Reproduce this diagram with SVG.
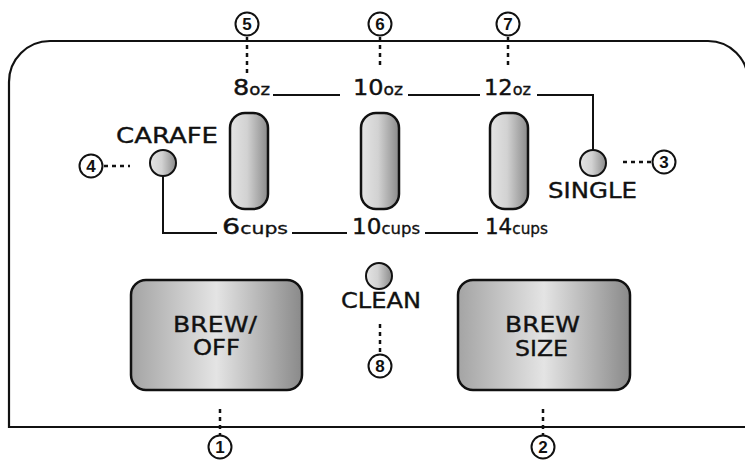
<svg xmlns="http://www.w3.org/2000/svg" width="745" height="463" viewBox="0 0 745 463">
<defs>
<linearGradient id="gBtn" x1="0" y1="0" x2="1" y2="0">
<stop offset="0" stop-color="#a4a4a4"/>
<stop offset="0.5" stop-color="#e4e4e4"/>
<stop offset="1" stop-color="#8a8a8a"/>
</linearGradient>
<linearGradient id="gPill" x1="0" y1="0" x2="1" y2="0">
<stop offset="0" stop-color="#e4e4e4"/>
<stop offset="0.45" stop-color="#d2d2d2"/>
<stop offset="1" stop-color="#8a8a8a"/>
</linearGradient>
<style>
.ol{fill:none;stroke:#111;stroke-width:2.2}
.ln{fill:none;stroke:#111;stroke-width:2}
.dot{fill:none;stroke:#111;stroke-width:2.5;stroke-dasharray:4 4}
.btn{fill:url(#gBtn);stroke:#111;stroke-width:2.5}
.pill{fill:url(#gPill);stroke:#111;stroke-width:2.5}
.led{fill:url(#gPill);stroke:#111;stroke-width:2}
.cc{fill:#fff;stroke:#111;stroke-width:2}
.num{font-family:"Liberation Sans",Arial,sans-serif;font-weight:bold;font-size:17px;text-anchor:middle;fill:#111}
.lbl{font-family:"DejaVu Sans",sans-serif;font-size:21px;fill:#111;stroke:#111;stroke-width:0.35;text-anchor:middle}
.val{font-family:"DejaVu Sans",sans-serif;font-size:21px;fill:#111;stroke:#111;stroke-width:0.4}
.sm{font-size:15px;stroke-width:0.3}
</style>
</defs>
<g id="panel">
<path class="ol" d="M 760 427 H 9 V 82 A 41 41 0 0 1 50 41 H 708 A 40 40 0 0 1 748 81 V 427"/>
</g>
<g id="connectors">
<polyline class="ln" points="273,95 340,95"/>
<polyline class="ln" points="408,95 480,95"/>
<polyline class="ln" points="537,95 593,95 593,150"/>
<polyline class="ln" points="163,176 163,233 217,233"/>
<polyline class="ln" points="292,233 347,233"/>
<polyline class="ln" points="425,233 478,233"/>
<line class="dot" x1="247" y1="37" x2="247" y2="73"/>
<line class="dot" x1="380" y1="37" x2="380" y2="68"/>
<line class="dot" x1="508" y1="37" x2="508" y2="68"/>
<line class="dot" x1="104" y1="166" x2="130" y2="166"/>
<line class="dot" x1="623" y1="162" x2="652" y2="162"/>
<line class="dot" x1="380" y1="324" x2="380" y2="355"/>
<line class="dot" x1="220" y1="409" x2="220" y2="436"/>
<line class="dot" x1="543" y1="409" x2="543" y2="436"/>
</g>
<g id="btn-brew-off">
<rect class="btn" x="131" y="280" width="171" height="110" rx="15"/>
<text class="lbl" x="215" y="332" textLength="84" lengthAdjust="spacingAndGlyphs">BREW/</text>
<text class="lbl" x="216.5" y="355" textLength="47" lengthAdjust="spacingAndGlyphs">OFF</text>
</g>
<g id="btn-brew-size">
<rect class="btn" x="458" y="280" width="172" height="110" rx="15"/>
<text class="lbl" x="542.5" y="332" textLength="75" lengthAdjust="spacingAndGlyphs">BREW</text>
<text class="lbl" x="541.5" y="356" textLength="53" lengthAdjust="spacingAndGlyphs">SIZE</text>
</g>
<g id="slider-1"><rect class="pill" x="230" y="113" width="38" height="96" rx="15"/></g>
<g id="slider-2"><rect class="pill" x="361" y="113" width="38" height="96" rx="15"/></g>
<g id="slider-3"><rect class="pill" x="490" y="113" width="38" height="96" rx="15"/></g>
<g id="led-carafe">
<circle class="led" cx="163" cy="163" r="13"/>
<text class="lbl" x="167" y="143" textLength="102" lengthAdjust="spacingAndGlyphs">CARAFE</text>
</g>
<g id="led-single">
<circle class="led" cx="593" cy="163" r="13"/>
<text class="lbl" x="592.5" y="198" textLength="89" lengthAdjust="spacingAndGlyphs">SINGLE</text>
</g>
<g id="led-clean">
<circle class="led" cx="379" cy="276" r="13"/>
<text class="lbl" x="381" y="308" textLength="80" lengthAdjust="spacingAndGlyphs">CLEAN</text>
</g>
<g id="label-8oz"><text class="val" x="233" y="95" textLength="37" lengthAdjust="spacingAndGlyphs">8<tspan class="sm">oz</tspan></text></g>
<g id="label-10oz"><text class="val" x="353" y="95" textLength="50" lengthAdjust="spacingAndGlyphs">10<tspan class="sm">oz</tspan></text></g>
<g id="label-12oz"><text class="val" x="484" y="95" textLength="47" lengthAdjust="spacingAndGlyphs">12<tspan class="sm">oz</tspan></text></g>
<g id="label-6cups"><text class="val" x="222" y="234" textLength="66" lengthAdjust="spacingAndGlyphs">6<tspan class="sm">cups</tspan></text></g>
<g id="label-10cups"><text class="val" x="352" y="234" textLength="68" lengthAdjust="spacingAndGlyphs">10<tspan class="sm">cups</tspan></text></g>
<g id="label-14cups"><text class="val" x="485" y="234" textLength="63" lengthAdjust="spacingAndGlyphs">14<tspan class="sm">cups</tspan></text></g>
<g id="callout-1"><circle class="cc" cx="220" cy="447" r="11.5"/><text class="num" x="220" y="453">1</text></g>
<g id="callout-2"><circle class="cc" cx="543" cy="447" r="11.5"/><text class="num" x="543" y="453">2</text></g>
<g id="callout-3"><circle class="cc" cx="664" cy="162" r="11.5"/><text class="num" x="664" y="168">3</text></g>
<g id="callout-4"><circle class="cc" cx="91" cy="166" r="11.5"/><text class="num" x="91" y="172">4</text></g>
<g id="callout-5"><circle class="cc" cx="247" cy="24" r="11.5"/><text class="num" x="247" y="30">5</text></g>
<g id="callout-6"><circle class="cc" cx="380" cy="24" r="11.5"/><text class="num" x="380" y="30">6</text></g>
<g id="callout-7"><circle class="cc" cx="508" cy="24" r="11.5"/><text class="num" x="508" y="30">7</text></g>
<g id="callout-8"><circle class="cc" cx="380" cy="366" r="11.5"/><text class="num" x="380" y="372">8</text></g>
</svg>
